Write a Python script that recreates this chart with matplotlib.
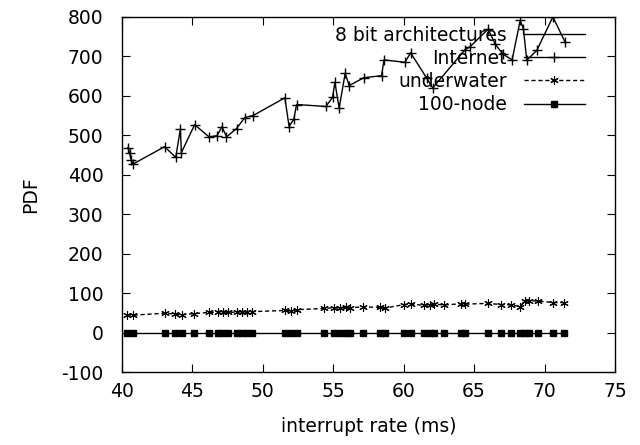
import matplotlib
matplotlib.use("Agg")
from matplotlib import pyplot as plt

# upper curve
internet_x = [40.45, 40.57, 40.69, 40.80, 43.05, 43.84, 44.17, 44.24, 45.18, 46.2,
              46.77, 47.12, 47.44, 48.15, 48.74, 49.33, 51.58, 51.88, 52.22, 52.41,
              54.49, 54.96, 55.13, 55.43, 55.86, 56.14, 57.19, 58.44, 58.61, 60.1,
              60.5, 61.64, 62.07, 64.36, 64.7, 66.0, 66.5, 67.04, 67.7, 68.27,
              68.5, 68.74, 69.45, 70.59, 71.46]
internet_y = [469, 454, 437, 427, 471, 444, 516, 456, 527, 496,
              499, 522, 496, 517, 545, 550, 595, 522, 541, 578,
              573, 596, 634, 569, 657, 626, 646, 651, 691, 685,
              709, 645, 620, 717, 724, 769, 731, 706, 691, 791,
              770, 690, 715, 800, 736]

# lower curves
low_x = [40.36, 40.78, 43.05, 43.76, 44.26, 45.11, 46.18, 46.82, 47.17, 47.53,
         48.17, 48.52, 48.88, 49.23, 51.58, 52.0, 52.43, 54.35, 55.06, 55.48,
         55.91, 56.19, 57.12, 58.32, 58.68, 60.03, 60.53, 61.45, 61.88, 62.16,
         62.87, 64.08, 64.36, 65.99, 66.92, 67.63, 68.27, 68.62, 68.91, 69.55,
         70.61, 71.39]
underwater_y = [45, 44, 49, 47, 45, 48, 51, 52, 53, 51,
                52, 53, 51, 53, 56, 55, 58, 61, 63, 62,
                64, 63, 65, 64, 62, 71, 72, 69, 70, 72,
                70, 73, 72, 74, 71, 70, 66, 79, 80, 80,
                76, 76]
node_y = [0] * len(low_x)

bit8_x, bit8_y = [], []

plt.rcParams["font.family"] = "DejaVu Sans"
plt.rcParams["axes.unicode_minus"] = False
fig = plt.figure(figsize=(6.4, 4.45), dpi=100)
ax = fig.add_axes([0.19, 0.164, 0.771, 0.798])

ax.plot(bit8_x, bit8_y, color="black", lw=1, label="8 bit architectures")
ax.plot(internet_x, internet_y, color="black", lw=1, marker="+", ms=7, mew=1,
        label="Internet")
ax.plot(low_x, underwater_y, color="black", lw=1, ls=(0, (3, 2)),
        marker=(6, 2, 0), ms=6, mew=0.8, label="underwater")
ax.plot(low_x, node_y, color="black", lw=1, marker="s", ms=5, label="100-node")

ax.set_xlim(40, 75)
ax.set_ylim(-100, 800)
ax.set_xticks(range(40, 76, 5))
ax.set_yticks(range(-100, 801, 100))
ax.tick_params(direction="in", length=6, top=True, right=True, labelsize=13.5)
ax.tick_params(axis="x", pad=7)
ax.tick_params(axis="y", pad=13)
for s in ax.spines.values():
    s.set_linewidth(1)

ax.set_xlabel("interrupt rate (ms)", fontsize=13.5, labelpad=12)
ax.set_ylabel("PDF", fontsize=13.5, labelpad=15)

ax.legend(loc="upper right", bbox_to_anchor=(0.94, 0.975), frameon=False,
          markerfirst=False, fontsize=13.5, handlelength=3.3, handletextpad=0.9,
          labelspacing=0.22, borderaxespad=0, borderpad=0)

plt.savefig("out.png", dpi=100)
